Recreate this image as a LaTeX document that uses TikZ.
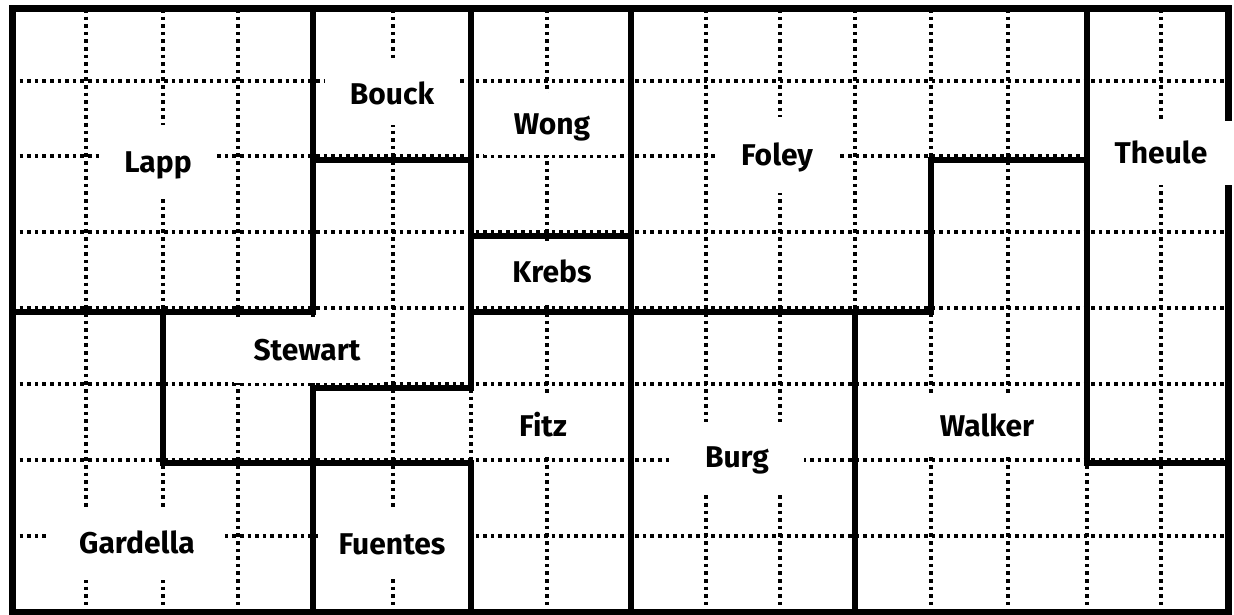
\documentclass[tikz,border=0pt]{standalone}
\usepackage{fontspec}
\setsansfont{Fira Sans}
\begin{document}
\begin{tikzpicture}[x=1pt,y=-1pt,
  gridline/.style={line width=3.6pt, dash pattern=on 3.6pt off 4pt},
  wall/.style={line width=6pt, line cap=rect},
  outerwall/.style={line width=7pt, line join=miter},
  lbl/.style={fill=white, inner sep=0pt, font=\sffamily\bfseries\fontsize{30}{32}\selectfont, text height=21pt, text depth=0pt}]
\useasboundingbox (0,0) rectangle (1234,615);
% dotted grid
\foreach \x in {86,163,238,313,393,471,547,631,706,780,855,931,1008,1087,1161}
  \draw[gridline] (\x,9) -- (\x,612);
\foreach \y in {81,156,232,308,384,460,536}
  \draw[gridline] (12,\y) -- (1228,\y);
% thick walls
\draw[wall] (313,9) -- (313,312) -- (12,312);
\draw[wall] (313,160) -- (471,160);
\draw[wall] (471,9) -- (471,388) -- (313,388) -- (313,612);
\draw[wall] (471,236) -- (631,236);
\draw[wall] (471,312) -- (931,312) -- (931,160) -- (1087,160);
\draw[wall] (631,9) -- (631,612);
\draw[wall] (1087,9) -- (1087,463) -- (1228,463);
\draw[wall] (855,312) -- (855,612);
\draw[wall] (163,312) -- (163,463) -- (471,463) -- (471,612);
\draw[outerwall] (12,9) rectangle (1228,612);
% names
\node[lbl, minimum width=110pt, minimum height=74pt] (lapp) at (158,162) {Lapp};
\node[lbl, minimum width=135pt, minimum height=63pt] (bouck) at (392,94) {Bouck};
\node[lbl, minimum width=136pt, minimum height=62pt] (wong) at (552,124) {Wong};
\node[lbl, minimum width=136pt, minimum height=57pt] (krebs) at (552,272) {Krebs};
\node[lbl, minimum width=121pt, minimum height=75pt] (foley) at (777,155) {Foley};
\node[lbl, minimum width=141pt, minimum height=63pt] (theule) at (1161,153) {Theule};
\node[lbl, minimum width=146pt, minimum height=66pt] (stewart) at (307,350) {Stewart};
\node[lbl, minimum width=137pt, minimum height=62pt] (fitz) at (543,426) {Fitz};
\node[lbl, minimum width=133pt, minimum height=71pt] (burg) at (737,457) {Burg};
\node[lbl, minimum width=135pt, minimum height=62pt] (walker) at (987,426) {Walker};
\node[lbl, minimum width=174pt, minimum height=73pt] (gardella) at (137,543) {Gardella};
\node[lbl, minimum width=148pt, minimum height=68pt] (fuentes) at (392,544) {Fuentes};
\end{tikzpicture}
\end{document}
